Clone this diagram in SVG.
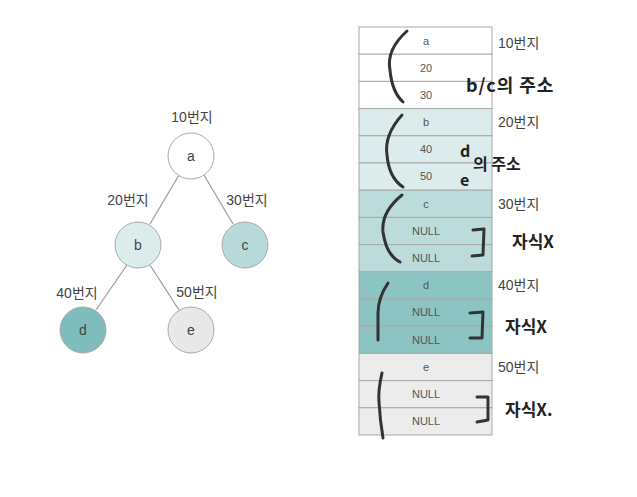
<svg xmlns="http://www.w3.org/2000/svg" width="637" height="497" viewBox="0 0 637 497">
<style>
.lbl{font-family:"Liberation Sans","Noto Sans CJK KR",sans-serif;font-size:14px;fill:#444}
.node{stroke:#aaa;stroke-width:1}
.nt{font-family:"Liberation Sans",sans-serif;font-size:14px;fill:#444;text-anchor:middle}
.cell{stroke:#a8a8a8;stroke-width:1}
.ct{font-family:"Liberation Sans",sans-serif;font-size:11px;fill:#555;text-anchor:middle}
.hw{fill:none;stroke:#333;stroke-width:3;stroke-linecap:round;stroke-linejoin:round}
.ht{font-family:"Noto Sans CJK KR","DejaVu Sans",sans-serif;font-weight:bold;fill:#222}
</style>
<rect width="637" height="497" fill="#fff"/>
<g id="connectors" stroke="#999" stroke-width="1.2">
<line x1="179" y1="175" x2="150" y2="224"/>
<line x1="204" y1="175" x2="233" y2="224"/>
<line x1="127" y1="265" x2="96" y2="310"/>
<line x1="150" y1="265" x2="179" y2="310"/>
</g>
<g id="node-a"><text class="lbl" x="192" y="122" text-anchor="middle">10번지</text><circle class="node" cx="191" cy="156" r="23" fill="#fff"/><text class="nt" x="191" y="161">a</text></g>
<g id="node-b"><text class="lbl" x="128" y="205" text-anchor="middle">20번지</text><circle class="node" cx="138" cy="245" r="23" fill="#dcecec"/><text class="nt" x="138" y="250">b</text></g>
<g id="node-c"><text class="lbl" x="247" y="205" text-anchor="middle">30번지</text><circle class="node" cx="245" cy="245" r="23" fill="#b7d9d9"/><text class="nt" x="245" y="250">c</text></g>
<g id="node-d"><text class="lbl" x="77" y="298" text-anchor="middle">40번지</text><circle class="node" cx="83" cy="330" r="23" fill="#7fbcbc"/><text class="nt" x="83" y="335">d</text></g>
<g id="node-e"><text class="lbl" x="197" y="297" text-anchor="middle">50번지</text><circle class="node" cx="191" cy="330" r="23" fill="#e8e8e8"/><text class="nt" x="191" y="335">e</text></g>
<g id="table">
<rect class="cell" x="359" y="27" width="133" height="27.2" fill="#fff"/>
<rect class="cell" x="359" y="54.2" width="133" height="27.2" fill="#fff"/>
<rect class="cell" x="359" y="81.4" width="133" height="27.2" fill="#fff"/>
<rect class="cell" x="359" y="108.6" width="133" height="27.2" fill="#dcecec"/>
<rect class="cell" x="359" y="135.8" width="133" height="27.2" fill="#dcecec"/>
<rect class="cell" x="359" y="163" width="133" height="27.2" fill="#dcecec"/>
<rect class="cell" x="359" y="190.2" width="133" height="27.2" fill="#bcdcdc"/>
<rect class="cell" x="359" y="217.4" width="133" height="27.2" fill="#bcdcdc"/>
<rect class="cell" x="359" y="244.6" width="133" height="27.2" fill="#bcdcdc"/>
<rect class="cell" x="359" y="271.8" width="133" height="27.2" fill="#8cc3c3"/>
<rect class="cell" x="359" y="299" width="133" height="27.2" fill="#8cc3c3"/>
<rect class="cell" x="359" y="326.2" width="133" height="27.2" fill="#8cc3c3"/>
<rect class="cell" x="359" y="353.4" width="133" height="27.2" fill="#ececec"/>
<rect class="cell" x="359" y="380.6" width="133" height="27.2" fill="#ececec"/>
<rect class="cell" x="359" y="407.8" width="133" height="27.2" fill="#ececec"/>
<text class="ct" x="426" y="45">a</text>
<text class="ct" x="426" y="72">20</text>
<text class="ct" x="426" y="99">30</text>
<text class="ct" x="426" y="126">b</text>
<text class="ct" x="426" y="153">40</text>
<text class="ct" x="426" y="180">50</text>
<text class="ct" x="426" y="208">c</text>
<text class="ct" x="426" y="235">NULL</text>
<text class="ct" x="426" y="262">NULL</text>
<text class="ct" x="426" y="289">d</text>
<text class="ct" x="426" y="316">NULL</text>
<text class="ct" x="426" y="344">NULL</text>
<text class="ct" x="426" y="371">e</text>
<text class="ct" x="426" y="398">NULL</text>
<text class="ct" x="426" y="425">NULL</text>
<text class="lbl" x="498" y="48">10번지</text>
<text class="lbl" x="498" y="127">20번지</text>
<text class="lbl" x="498" y="209">30번지</text>
<text class="lbl" x="498" y="290">40번지</text>
<text class="lbl" x="498" y="372">50번지</text>
</g>
<g id="annotations">
<path class="hw" d="M407,31 Q386,50 390,70 Q392,92 403,102"/>
<path class="hw" d="M402,115 Q384,135 387,155 Q389,178 403,187"/>
<path class="hw" d="M402,195 Q381,212 383,232 Q386,255 400,262"/>
<path class="hw" d="M388,283 Q378,298 378,313 Q378,328 378,340"/>
<path class="hw" d="M382,373 Q378,390 379,402 Q380,420 383,438"/>
<path class="hw" d="M473,230 L484,229 L483,255 L472,256"/>
<path class="hw" d="M470,313 L483,312 L482,338 L470,338"/>
<path class="hw" d="M477,397 L488,397 L488,420 L477,422"/>
<text class="ht" x="466" y="92" font-size="18" letter-spacing="1">b/c의 주소</text>
<text class="ht" x="460" y="157" font-size="16">d</text>
<text class="ht" x="460" y="186" font-size="16">e</text>
<text class="ht" x="473" y="170" font-size="16">의 주소</text>
<text class="ht" x="512" y="248" font-size="17">자식X</text>
<text class="ht" x="505" y="333" font-size="17">자식X</text>
<text class="ht" x="505" y="416" font-size="17">자식X.</text>
</g>
</svg>
